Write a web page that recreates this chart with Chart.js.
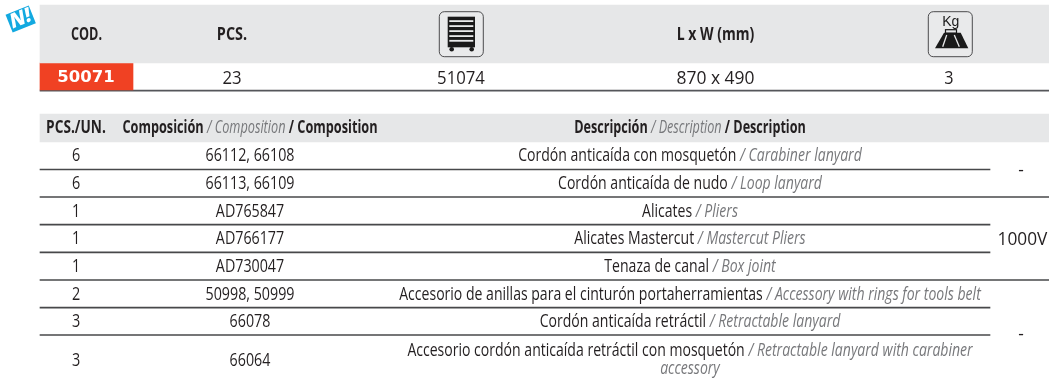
<!DOCTYPE html>
<html>
<head>
<meta charset="utf-8">
<title>50071</title>
<script src="https://cdn.jsdelivr.net/npm/chart.js@4"></script>
<style>
html, body { margin: 0; padding: 0; background: #fff; overflow: hidden; }
canvas { display: block; }
</style>
</head>
<body>
<canvas id="table" width="1049" height="383"></canvas>
<script>
// product table
const productHeaders = ['COD.', 'PCS.', 'L x W (mm)'];
const productCode = '50071';
const productPcs = '23';
const productDrawer = '51074';
const productSize = '870 x 490';
const productWeight = '3';

// composition table
const pcsValues = ['6', '6', '1', '1', '1', '2', '3', '3'];
const compositionCodes = ['66112, 66108', '66113, 66109', 'AD765847', 'AD766177', 'AD730047', '50998, 50999', '66078', '66064'];
const descriptionEs = [
    'Cordón anticaída con mosquetón',
    'Cordón anticaída de nudo',
    'Alicates',
    'Alicates Mastercut',
    'Tenaza de canal',
    'Accesorio de anillas para el cinturón portaherramientas',
    'Cordón anticaída retráctil',
    'Accesorio cordón anticaída retráctil con mosquetón'
];
const descriptionEn = [
    'Carabiner lanyard',
    'Loop lanyard',
    'Pliers',
    'Mastercut Pliers',
    'Box joint',
    'Accessory with rings for tools belt',
    'Retractable lanyard',
    'Retractable lanyard with carabiner'
];
const lastRowWrap = 'accessory';
const insulationLabels = ['-', '1000V', '-'];

// layout, in scale units
const rowCenters = [156, 183.5, 211.5, 239, 266.5, 294.5, 322, 360.5];
const ruleRows = [169.5, 197, 224.7, 252.3, 280, 307.7, 335];
const ruleEnds = [990, 1049, 990, 990, 1049, 990, 990];
const insulationRows = [171, 239.5, 335];

const DARK = '#231f20';
const GREY = '#77787b';
const BODY = '"Open Sans"';

function band(x0, x1, top, bottom, color) {
    return {
        data: [{ x: [x0, x1], y: (top + bottom) / 2 }],
        backgroundColor: color,
        barThickness: bottom - top,
        grouped: false
    };
}

const datasets = [
    band(40, 1049, 5, 63, '#e6e7e8'),
    band(40, 1049, 114, 142, '#e6e7e8'),
    band(40, 133, 63, 90, '#f04123'),
    band(40, 1049, 90, 91.2, '#55565a')
];
ruleRows.forEach((y, i) => {
    datasets.push(band(40, ruleEnds[i], y - 0.5, y + 0.5, '#47484a'));
});

// mixed runs centred on cx; sx squeezes the wide font into the condensed look
function drawRuns(ctx, runs, cx, y, sx) {
    ctx.save();
    ctx.textBaseline = 'middle';
    ctx.textAlign = 'left';
    let total = 0;
    runs.forEach(r => {
        ctx.font = r.font;
        total += ctx.measureText(r.text).width;
    });
    ctx.translate(cx - total * sx / 2, y);
    ctx.scale(sx, 1);
    let pos = 0;
    runs.forEach(r => {
        ctx.font = r.font;
        ctx.fillStyle = r.color;
        ctx.fillText(r.text, pos, 0);
        pos += ctx.measureText(r.text).width;
    });
    ctx.restore();
}

function roundBox(ctx, x, y) {
    ctx.beginPath();
    ctx.roundRect(x, y, 44, 45, 5);
    ctx.fillStyle = '#e9eaeb';
    ctx.fill();
    ctx.strokeStyle = '#3a3a3c';
    ctx.lineWidth = 0.9;
    ctx.stroke();
}

function drawCabinetIcon(ctx, x, y) {
    roundBox(ctx, x, y);
    ctx.fillStyle = '#1a1a1a';
    ctx.fillRect(x + 8.4, y + 5, 27.3, 30.6);
    ctx.fillStyle = '#e9eaeb';
    [8.5, 13.5, 18.5, 23.5, 28.2].forEach(dy => ctx.fillRect(x + 10, y + dy, 24, 1.8));
    ctx.fillStyle = '#1a1a1a';
    [12.4, 32.4].forEach(dx => {
        ctx.beginPath();
        ctx.arc(x + dx, y + 37.6, 2.3, 0, Math.PI * 2);
        ctx.fill();
    });
}

function drawWeightIcon(ctx, x, y) {
    roundBox(ctx, x, y);
    ctx.fillStyle = '#1a1a1a';
    ctx.font = '14px "Liberation Sans"';
    ctx.textAlign = 'center';
    ctx.textBaseline = 'middle';
    ctx.fillText('Kg', x + 22.4, y + 10.5);
    ctx.beginPath();
    ctx.moveTo(x + 15.7, y + 21);
    ctx.lineTo(x + 32.4, y + 21);
    ctx.lineTo(x + 40, y + 36.6);
    ctx.lineTo(x + 6.7, y + 36.6);
    ctx.closePath();
    ctx.fill();
    ctx.strokeStyle = '#1a1a1a';
    ctx.lineWidth = 1.2;
    ctx.strokeRect(x + 17.2, y + 18, 11, 3.5);
    ctx.strokeStyle = '#e9eaeb';
    ctx.lineWidth = 1.3;
    [[18.4, 14.4, 35], [26, 31, 35]].forEach(p => {
        ctx.beginPath();
        ctx.moveTo(x + p[0], y + 23.3);
        ctx.lineTo(x + p[1], y + p[2]);
        ctx.stroke();
    });
}

function drawNewBadge(ctx) {
    ctx.save();
    ctx.translate(20.7, 19);
    ctx.rotate(-22 * Math.PI / 180);
    ctx.fillStyle = '#13a9e0';
    ctx.fillRect(-12.5, -9.5, 25, 19);
    ctx.fillStyle = '#fff';
    ctx.font = 'italic 800 20px "Open Sans"';
    ctx.textAlign = 'center';
    ctx.textBaseline = 'middle';
    ctx.fillText('N!', 0, 0);
    ctx.restore();
}

const tableText = {
    id: 'tableText',
    afterDatasetsDraw(chart) {
        const ctx = chart.ctx;
        const px = v => chart.scales.x.getPixelForValue(v);
        const py = v => chart.scales.y.getPixelForValue(v);
        const headFont = 'bold 18px ' + BODY;
        const cellFont = '18px ' + BODY;
        const rowFont = '18px ' + BODY;
        const rowItalic = 'italic 18px ' + BODY;
        const smallHead = 'bold 18px ' + BODY;
        const smallItalic = 'italic 18px ' + BODY;

        drawNewBadge(ctx);

        // product table
        const headX = [86.5, 232, 715.5];
        const headSx = [0.7, 0.8, 0.78];
        productHeaders.forEach((t, i) => {
            drawRuns(ctx, [{ text: t, font: headFont, color: DARK }], px(headX[i]), py(35), headSx[i]);
        });
        drawCabinetIcon(ctx, px(439.3), py(11.7));
        drawWeightIcon(ctx, px(928.3), py(11.7));
        drawRuns(ctx, [{ text: productCode, font: 'bold 16px "DejaVu Sans"', color: '#fff' }], px(86), py(78), 1.03);
        drawRuns(ctx, [{ text: productPcs, font: cellFont, color: DARK }], px(232), py(78.5), 0.93);
        drawRuns(ctx, [{ text: productDrawer, font: cellFont, color: DARK }], px(461), py(78.5), 0.93);
        drawRuns(ctx, [{ text: productSize, font: cellFont, color: DARK }], px(715.5), py(78.5), 0.97);
        drawRuns(ctx, [{ text: productWeight, font: cellFont, color: DARK }], px(949), py(78.5), 0.9);

        // composition header
        drawRuns(ctx, [{ text: 'PCS./UN.', font: smallHead, color: DARK }], px(76), py(128), 0.76);
        drawRuns(ctx, [
            { text: 'Composición', font: smallHead, color: DARK },
            { text: ' / Composition', font: smallItalic, color: GREY },
            { text: ' / Composition', font: smallHead, color: DARK }
        ], px(250), py(128), 0.706);
        drawRuns(ctx, [
            { text: 'Descripción', font: smallHead, color: DARK },
            { text: ' / Description', font: smallItalic, color: GREY },
            { text: ' / Description', font: smallHead, color: DARK }
        ], px(690), py(128), 0.70);

        // composition rows
        pcsValues.forEach((v, i) => {
            drawRuns(ctx, [{ text: v, font: rowFont, color: DARK }], px(76), py(rowCenters[i]), 0.8);
            drawRuns(ctx, [{ text: compositionCodes[i], font: rowFont, color: DARK }], px(250), py(rowCenters[i]), 0.792);
            const descY = i === 7 ? 350.5 : rowCenters[i];
            drawRuns(ctx, [
                { text: descriptionEs[i], font: rowFont, color: DARK },
                { text: ' / ' + descriptionEn[i], font: rowItalic, color: GREY }
            ], px(690), py(descY), 0.78);
        });
        drawRuns(ctx, [{ text: lastRowWrap, font: rowItalic, color: GREY }], px(690), py(369), 0.78);

        insulationLabels.forEach((t, i) => {
            drawRuns(ctx, [{ text: t, font: cellFont, color: DARK }], px(t === '-' ? 1021 : 1022.5), py(insulationRows[i]), 0.96);
        });
    }
};

new Chart(document.getElementById('table'), {
    type: 'bar',
    data: { datasets },
    options: {
        indexAxis: 'y',
        responsive: false,
        animation: false,
        layout: { padding: 0 },
        plugins: {
            legend: { display: false },
            title: { display: false },
            tooltip: { enabled: false }
        },
        scales: {
            x: { type: 'linear', min: 0, max: 1049, offset: false, display: false },
            y: { type: 'linear', min: 0, max: 383, reverse: true, offset: false, display: false }
        }
    },
    plugins: [tableText]
});
</script>
</body>
</html>
